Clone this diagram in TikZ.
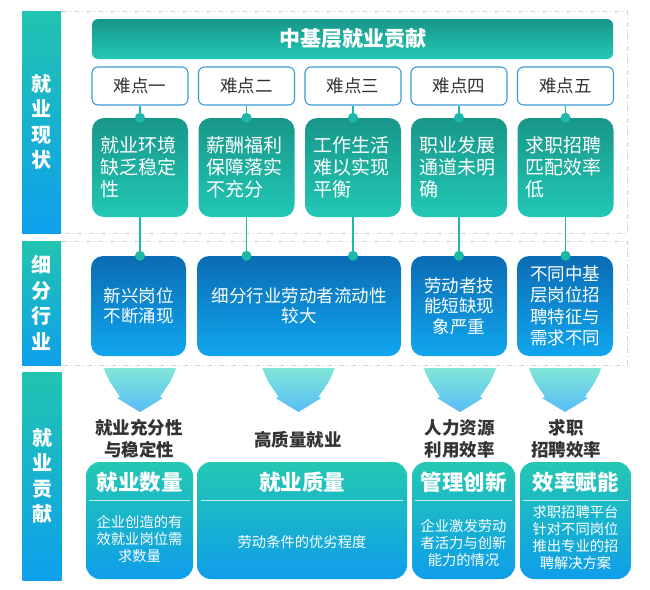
\documentclass[tikz,border=0pt]{standalone}
\usepackage{fontspec}
\setmainfont{Noto Sans CJK SC}
\usepackage{xcolor}
\usepackage{tikz}
\usetikzlibrary{arrows.meta, positioning, calc}
\definecolor{sideT}{RGB}{33,196,176}
\definecolor{sideB}{RGB}{14,160,236}
\definecolor{tealD}{RGB}{24,150,137}
\definecolor{tealL}{RGB}{34,200,181}
\definecolor{blueD}{RGB}{10,108,180}
\definecolor{blueL}{RGB}{16,166,238}
\definecolor{gainT}{RGB}{36,200,178}
\definecolor{gainB}{RGB}{14,158,234}
\definecolor{fnT}{RGB}{128,230,216}
\definecolor{fnB}{RGB}{88,188,246}
\definecolor{linkc}{RGB}{30,184,166}
\definecolor{rimc}{RGB}{58,155,214}
\definecolor{textD}{RGB}{51,51,51}

\begin{document}
\begin{tikzpicture}[x=1pt, y=-1pt,
    side/.style={rectangle, minimum width=39pt, inner sep=0pt, top color=sideT, bottom color=sideB, text=white, align=center, font=\fontsize{20}{25.5}\selectfont\bfseries},
    title/.style={rectangle, rounded corners=6pt, minimum width=521pt, minimum height=40pt, top color=tealD, bottom color=tealL, text=white, font=\fontsize{21}{24}\selectfont\bfseries},
    hard/.style={rectangle, rounded corners=6pt, minimum width=96pt, minimum height=38pt, draw=rimc, line width=1.1pt, fill=white, text=textD, font=\fontsize{17.5}{20}\selectfont},
    issue/.style={rectangle, rounded corners=12pt, minimum width=96pt, minimum height=99pt, top color=tealD, bottom color=tealL, text=white, text width=80pt, align=left, font=\fontsize{19}{22}\selectfont},
    sector/.style={rectangle, rounded corners=12pt, minimum height=100pt, top color=blueD, bottom color=blueL, text=white, align=center, font=\fontsize{17.5}{20.5}\selectfont},
    gain/.style={rectangle, rounded corners=14pt, minimum height=117pt, top color=gainT, bottom color=gainB},
    gainhead/.style={text=white, font=\fontsize{21.5}{24}\selectfont\bfseries},
    gaintext/.style={text=white, align=center, font=\fontsize{14.3}{17}\selectfont},
    aim/.style={text=textD, align=center, font=\fontsize{17.5}{22}\selectfont\bfseries},
    link/.style={draw=linkc, line width=1.6pt},
    dot/.style={fill=linkc},
    frame/.style={draw=gray!35, line width=0.8pt, dash pattern=on 5pt off 3pt on 1pt off 3pt},
    rule/.style={draw=white!75!gainT, line width=0.8pt},
    funnel/.pic={\path[top color=fnT, bottom color=fnB] (-36,0) -- (36,0) .. controls (32,14) and (24,22) .. (20,29) -- (23,30) -- (0,44) -- (-23,30) -- (-20,29) .. controls (-24,22) and (-32,14) .. (-36,0) -- cycle;}
]
    \useasboundingbox (0,0) rectangle (650,589);

    % section frames
    \draw[frame] (62,11) -- (627,11) -- (627,233) -- (62,233);
    \draw[frame] (62,241) -- (627,241) -- (627,365) -- (62,365);

    % side bars
    \node[side, minimum height=222pt] (bar1) at (41.5,122) {就\\业\\现\\状};
    \node[side, minimum height=124pt] (bar2) at (41.5,303) {细\\分\\行\\业};
    \node[side, minimum height=208pt] (bar3) at (42,476) {就\\业\\贡\\献};

    \node[title] (head) at (352.5,39) {中基层就业贡献};

    \node[hard] (diff1) at (140,86) {难点一};
    \node[hard] (diff2) at (246.5,86) {难点二};
    \node[hard] (diff3) at (353,86) {难点三};
    \node[hard] (diff4) at (459,86) {难点四};
    \node[hard] (diff5) at (565.5,86) {难点五};

    \node[issue] (prob1) at (140,167.5) {就业环境\\缺乏稳定\\性};
    \node[issue] (prob2) at (246.5,167.5) {薪酬福利\\保障落实\\不充分};
    \node[issue] (prob3) at (353,167.5) {工作生活\\难以实现\\平衡};
    \node[issue] (prob4) at (459,167.5) {职业发展\\通道未明\\确};
    \node[issue] (prob5) at (565.5,167.5) {求职招聘\\匹配效率\\低};

    \node[sector, minimum width=95pt] (sec1) at (138.5,306) {新兴岗位\\不断涌现};
    \node[sector, minimum width=204pt] (sec2) at (299,306) {细分行业劳动者流动性\\较大};
    \node[sector, minimum width=96pt] (sec3) at (459,306) {劳动者技\\能短缺现\\象严重};
    \node[sector, minimum width=96pt, font=\fontsize{17.5}{21.3}\selectfont] (sec4) at (565,306) {不同中基\\层岗位招\\聘特征与\\需求不同};

    % connectors
    \draw[link] (diff1) -- (prob1);
    \draw[link] (diff2) -- (prob2);
    \draw[link] (diff3) -- (prob3);
    \draw[link] (diff4) -- (prob4);
    \draw[link] (diff5) -- (prob5);
    \fill[dot] (prob1.north) circle (5pt);
    \fill[dot] (prob2.north) circle (5pt);
    \fill[dot] (prob3.north) circle (5pt);
    \fill[dot] (prob4.north) circle (5pt);
    \fill[dot] (prob5.north) circle (5pt);

    \draw[link] (prob1.south) -- (prob1.south |- sec1.north);
    \draw[link] (prob2.south) -- (prob2.south |- sec2.north);
    \draw[link] (prob3.south) -- (prob3.south |- sec2.north);
    \draw[link] (prob4.south) -- (prob4.south |- sec3.north);
    \draw[link] (prob5.south) -- (prob5.south |- sec4.north);
    \fill[dot] (prob1.south |- sec1.north) circle (5pt);
    \fill[dot] (prob2.south |- sec2.north) circle (5pt);
    \fill[dot] (prob3.south |- sec2.north) circle (5pt);
    \fill[dot] (prob4.south |- sec3.north) circle (5pt);
    \fill[dot] (prob5.south |- sec4.north) circle (5pt);

    % big arrows
    \pic at (140,368) {funnel};
    \pic at (298.5,368) {funnel};
    \pic at (460,368) {funnel};
    \pic at (565,368) {funnel};

    \node[aim] (aim1) at (139,439) {就业充分性\\与稳定性};
    \node[aim] (aim2) at (298,440) {高质量就业};
    \node[aim] (aim3) at (459.5,439) {人力资源\\利用效率};
    \node[aim] (aim4) at (566,439) {求职\\招聘效率};

    \node[gain, minimum width=107pt] (gain1) at (139.5,520.5) {};
    \node[gain, minimum width=210pt] (gain2) at (302,520.5) {};
    \node[gain, minimum width=103pt] (gain3) at (463.5,520.5) {};
    \node[gain, minimum width=111pt] (gain4) at (575.5,520.5) {};

    \node[gainhead] (head1) at (139.5,482) {就业数量};
    \node[gainhead] (head2) at (302,482) {就业质量};
    \node[gainhead] (head3) at (463.5,482) {管理创新};
    \node[gainhead] (head4) at (575.5,482) {效率赋能};

    \draw[rule] ($(gain1.north west)+(3,39)$) -- ($(gain1.north east)+(-3,39)$);
    \draw[rule] ($(gain2.north west)+(4,39)$) -- ($(gain2.north east)+(-4,39)$);
    \draw[rule] ($(gain3.north west)+(3,39)$) -- ($(gain3.north east)+(-3,39)$);
    \draw[rule] ($(gain4.north west)+(3,39)$) -- ($(gain4.north east)+(-3,39)$);

    \node[gaintext] (note1) at (139.5,539) {企业创造的有\\效就业岗位需\\求数量};
    \node[gaintext] (note2) at (302,542) {劳动条件的优劣程度};
    \node[gaintext] (note3) at (463.5,543) {企业激发劳动\\者活力与创新\\能力的情况};
    \node[gaintext] (note4) at (575.5,538) {求职招聘平台\\针对不同岗位\\推出专业的招\\聘解决方案};
\end{tikzpicture}
\end{document}
